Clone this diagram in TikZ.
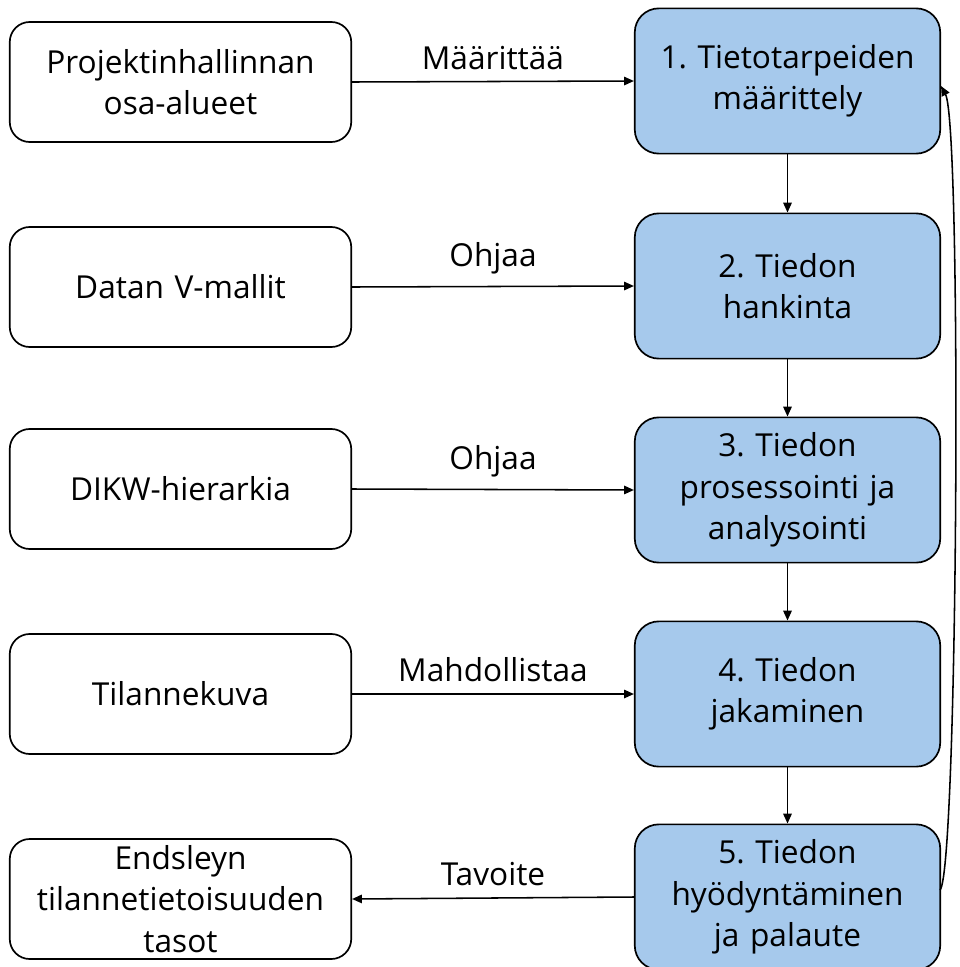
\documentclass[tikz,border=0pt]{standalone}
\usepackage{fontspec}
\setmainfont{Open Sans}
\usetikzlibrary{arrows.meta}
\definecolor{stepblue}{RGB}{166,201,236}
\begin{document}
\frenchspacing
\begin{tikzpicture}[x=0.025cm,y=-0.025cm,
  every node/.style={font=\fontsize{22.5}{29.5}\selectfont},
  srcbox/.style={draw=black, line width=1.2pt, rounded corners=0.5cm, fill=white,
    minimum width=8.5cm, minimum height=3cm, align=center, text width=8.3cm},
  stepbox/.style={draw=black, line width=1.2pt, rounded corners=0.6cm, fill=stepblue,
    minimum width=7.6cm, minimum height=3.63cm, align=center, text width=7.4cm},
  link/.style={line width=1.1pt, -{Triangle[length=7pt,width=6pt]}},
  lbl/.style={inner sep=2pt, above=6pt}]
\useasboundingbox (0,0) rectangle (960,967);

% framework boxes on the left
\node[srcbox] (a1) at (180.5,82) {Projektinhallinnan\\osa-alueet};
\node[srcbox] (a2) at (180.5,287) {Datan V-mallit};
\node[srcbox] (a3) at (180.5,489) {DIKW-hierarkia};
\node[srcbox] (a4) at (180.5,694) {Tilannekuva};
\node[srcbox] (a5) at (180.5,899) {Endsleyn\\tilannetietoisuuden\\tasot};

% information management process steps
\node[stepbox] (s1) at (787.5,81) {1. Tietotarpeiden\\määrittely};
\node[stepbox] (s2) at (787.5,286) {2. Tiedon\\hankinta};
\node[stepbox] (s3) at (787.5,490) {3. Tiedon\\prosessointi ja\\analysointi};
\node[stepbox] (s4) at (787.5,694) {4. Tiedon\\jakaminen};
\node[stepbox] (s5) at (787.5,897) {5. Tiedon\\hyödyntäminen\\ja palaute};

% horizontal relations
\draw[link] (a1.east) -- node[lbl] {Määrittää} (s1.west);
\draw[link] (a2.east) -- node[lbl] {Ohjaa} (s2.west);
\draw[link] (a3.east) -- node[lbl] {Ohjaa} (s3.west);
\draw[link] (a4.east) -- node[lbl] {Mahdollistaa} (s4.west);
\draw[link] (s5.west) -- node[lbl] {Tavoite} (a5.east);

% process chain
\draw[link] (s1) -- (s2);
\draw[link] (s2) -- (s3);
\draw[link] (s3) -- (s4);
\draw[link] (s4) -- (s5);

% feedback loop
\coordinate (fbout) at (940,890);
\coordinate (fbin) at (941,86);
\draw[link] (fbout) .. controls (958,872) and (962,125) .. (fbin);
\end{tikzpicture}
\end{document}
